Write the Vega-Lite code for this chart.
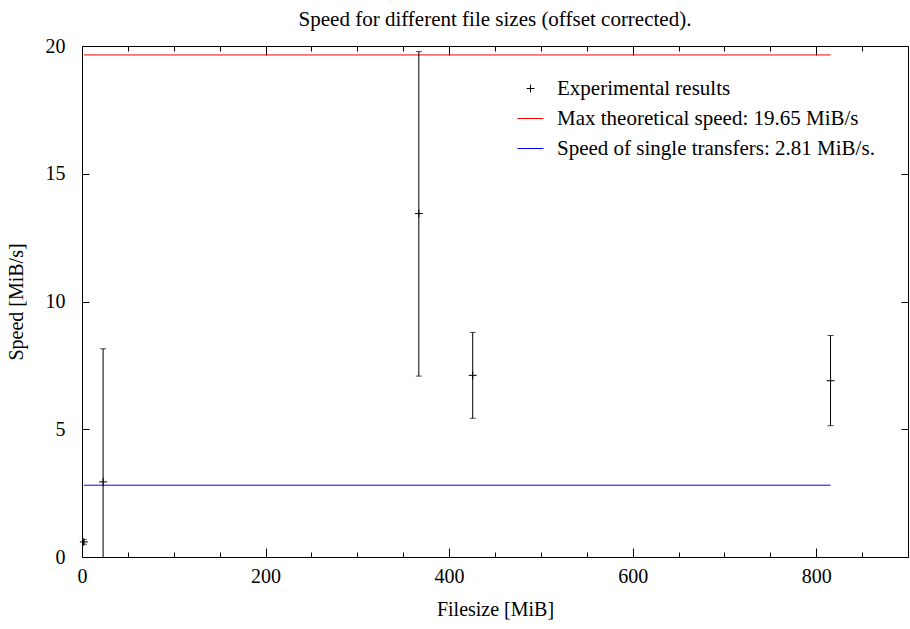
{
  "$schema": "https://vega.github.io/schema/vega-lite/v6.json",
  "width": 826,
  "height": 511,
  "autosize": "none",
  "padding": {"left": 82, "top": 46, "right": 2, "bottom": 72},
  "background": "white",
  "title": {"text": "Speed for different file sizes (offset corrected).", "font": "'Liberation Serif', 'DejaVu Serif', serif", "fontSize": 21, "fontWeight": "normal", "color": "black", "offset": 6, "anchor": "middle"},
  "datasets": {
    "results": [
      {"series": "Experimental results", "filesize": 2, "speed": 0.59, "lo": 0.5, "hi": 0.68},
      {"series": "Experimental results", "filesize": 23, "speed": 2.94, "lo": -2.27, "hi": 8.15},
      {"series": "Experimental results", "filesize": 367, "speed": 13.44, "lo": 7.08, "hi": 19.78},
      {"series": "Experimental results", "filesize": 425.7, "speed": 7.11, "lo": 5.43, "hi": 8.79},
      {"series": "Experimental results", "filesize": 815.6, "speed": 6.9, "lo": 5.14, "hi": 8.67}
    ],
    "lines": [
      {"series": "Max theoretical speed: 19.65 MiB/s", "x_start": 2, "x_end": 815.6, "speed": 19.65},
      {"series": "Speed of single transfers: 2.81 MiB/s.", "x_start": 2, "x_end": 815.6, "speed": 2.81}
    ]
  },
  "layer": [
    {
      "data": {"name": "lines"},
      "mark": {"type": "rule", "strokeWidth": 1},
      "encoding": {
        "x": {"field": "x_start", "type": "quantitative", "scale": {"domain": [0, 900], "nice": false},
          "axis": {"orient": "bottom", "title": "Filesize [MiB]", "values": [0,50,100,150,200,250,300,350,400,450,500,550,600,650,700,750,800,850],
            "labelExpr": "datum.value % 200 === 0 ? datum.label : ''", "labelFlush": false,
            "tickSize": {"condition": {"test": "datum.value % 200 === 0", "value": -9}, "value": -5},
            "labelPadding": 18, "titlePadding": 13}},
        "x2": {"field": "x_end"},
        "y": {"field": "speed", "type": "quantitative", "scale": {"domain": [0, 20], "nice": false},
          "axis": {"orient": "left", "title": "Speed [MiB/s]", "values": [0,5,10,15,20], "tickSize": -7, "labelPadding": 24, "labelFlush": false, "titlePadding": 19}},
        "color": {"field": "series", "type": "nominal",
          "scale": {"domain": ["Experimental results", "Max theoretical speed: 19.65 MiB/s", "Speed of single transfers: 2.81 MiB/s."], "range": ["black", "#ff0000", "#0000ff"]},
          "legend": {"title": null}}
      }
    },
    {
      "data": {"name": "results"},
      "mark": {"type": "rule", "clip": true, "color": "black", "strokeWidth": 1},
      "encoding": {
        "x": {"field": "filesize", "type": "quantitative",
          "axis": {"orient": "top", "labels": false, "title": null, "values": [0,50,100,150,200,250,300,350,400,450,500,550,600,650,700,750,800,850],
            "tickSize": {"condition": {"test": "datum.value % 200 === 0", "value": -9}, "value": -5}}},
        "y": {"field": "lo", "type": "quantitative",
          "axis": {"orient": "right", "labels": false, "title": null, "values": [0,5,10,15,20], "tickSize": -7}},
        "y2": {"field": "hi"}
      }
    },
    {
      "data": {"name": "results"},
      "transform": [{"fold": ["lo", "hi"], "as": ["bound", "value"]}],
      "mark": {"type": "tick", "orient": "horizontal", "clip": true, "color": "black", "size": 6, "thickness": 1},
      "encoding": {
        "x": {"field": "filesize", "type": "quantitative", "axis": null},
        "y": {"field": "value", "type": "quantitative", "axis": null}
      }
    },
    {
      "data": {"name": "results"},
      "mark": {"type": "point", "filled": false, "strokeWidth": 1, "size": 711, "opacity": 1},
      "encoding": {
        "x": {"field": "filesize", "type": "quantitative", "axis": null},
        "y": {"field": "speed", "type": "quantitative", "axis": null},
        "color": {"field": "series", "type": "nominal", "legend": {"title": null,
          "encode": {"symbols": {"update": {"stroke": {"scale": "color", "field": "value"}, "fill": {"value": "transparent"}, "strokeWidth": {"value": 1}, "opacity": {"value": 1}}}}}},
        "shape": {"field": "series", "type": "nominal",
          "scale": {"domain": ["Experimental results", "Max theoretical speed: 19.65 MiB/s", "Speed of single transfers: 2.81 MiB/s."], "range": ["M-0.3,0H0.3M0,-0.3V0.3", "M-1,0H1", "M-1,0H1"]},
          "legend": {"title": null}}
      }
    }
  ],
  "resolve": {"axis": {"x": "independent", "y": "independent"}},
  "config": {
    "view": {"stroke": "black", "strokeWidth": 1},
    "axis": {"labelFont": "'Liberation Serif', 'DejaVu Serif', serif", "labelFontSize": 20, "labelColor": "black", "titleFont": "'Liberation Serif', 'DejaVu Serif', serif", "titleFontSize": 20, "titleFontWeight": "normal", "titleColor": "black", "domain": false, "grid": false, "tickColor": "black", "tickWidth": 1},
    "legend": {"orient": "none", "legendX": 435, "legendY": 29, "padding": 0, "labelFont": "'Liberation Serif', 'DejaVu Serif', serif", "labelFontSize": 21, "labelColor": "black", "symbolSize": 676, "symbolStrokeWidth": 1, "labelOffset": 13, "rowPadding": 6, "labelLimit": 400}
  }
}
